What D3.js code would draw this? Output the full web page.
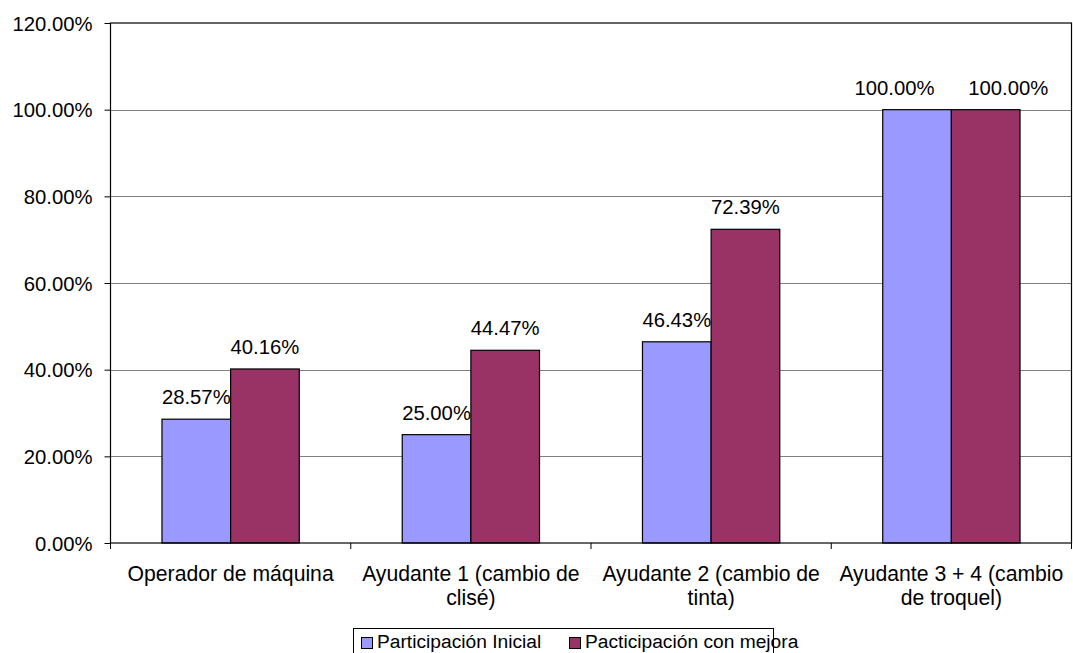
<!DOCTYPE html>
<html><head><meta charset="utf-8">
<script src="https://cdn.jsdelivr.net/npm/d3@7"></script>
<style>body{margin:0;background:#fff}svg{display:block}text{font-family:"Liberation Sans",Arial,sans-serif;fill:#000}</style>
</head><body><svg id="c" width="1073" height="653"></svg>
<script>
const categories = [["Operador de máquina"],["Ayudante 1 (cambio de","clisé)"],["Ayudante 2 (cambio de","tinta)"],["Ayudante 3 + 4 (cambio","de troquel)"]];
const seriesNames = ["Participación Inicial","Pacticipación con mejora"];
const inicial = [28.57, 25.00, 46.43, 100.00];
const mejora = [40.16, 44.47, 72.39, 100.00];
const yTicks = [0,20,40,60,80,100,120];
const colors = ["#9999FF","#993366"];

const svg = d3.select("#c");
const L=110.5, R=1071.5, T=23, B=543;
const x = d3.scaleBand().domain(d3.range(categories.length)).range([L,R]).paddingInner(0).paddingOuter(0);
const sub = d3.scaleBand().domain([0,1]).range([0,x.bandwidth()]).paddingOuter(0.75).paddingInner(0);
const y = d3.scaleLinear().domain([0,120]).range([B,T]);
const fs = 20.3, fsCat = 21.2, fsLeg = 19.2;

// gridlines
svg.append("g").selectAll("line").data(yTicks.filter(d=>d>0&&d<120)).join("line")
  .attr("x1",L).attr("x2",R).attr("y1",d=>Math.round(y(d))+0.5).attr("y2",d=>Math.round(y(d))+0.5)
  .attr("stroke","#808080").attr("stroke-width",1);

// bars
const series=[inicial,mejora];
series.forEach((vals,si)=>{
  svg.append("g").selectAll("rect").data(vals).join("rect")
    .attr("x",(d,i)=>x(i)+sub(si)).attr("width",sub.bandwidth())
    .attr("y",d=>y(d)).attr("height",d=>B-y(d))
    .attr("fill",colors[si]).attr("stroke","#000").attr("stroke-width",1.2);
});
// data labels (pushed apart when both labels of a group sit at the same height)
series.forEach((vals,si)=>{
  const other = series[1-si];
  svg.append("g").selectAll("text").data(vals).join("text")
    .attr("x",(d,i)=>{
      let cx = x(i)+sub(si)+sub.bandwidth()/2;
      if (Math.abs(y(d)-y(other[i]))<22) cx += (si===0?-1:1)*22.5;
      return cx;
    })
    .attr("y",d=>y(d)-15)
    .attr("text-anchor","middle").attr("font-size",fs)
    .text(d=>d.toFixed(2)+"%");
});

// plot border
svg.append("rect").attr("x",L).attr("y",T).attr("width",R-L).attr("height",B-T)
  .attr("fill","none").attr("stroke","#000").attr("stroke-width",1.2);

// y axis
const ya = d3.axisLeft(y).tickValues(yTicks).tickSize(6).tickPadding(12).tickFormat(d=>d.toFixed(2)+"%");
const yg = svg.append("g").attr("transform",`translate(${L},0)`).call(ya);
yg.select(".domain").remove();
yg.selectAll("line").attr("stroke","#000");
yg.selectAll("text").attr("font-size",fs).attr("font-family","Liberation Sans, Arial").attr("fill","#000").attr("dy","0.35em");

// x axis ticks
const xt = d3.range(categories.length+1).map(i=>L+i*x.bandwidth());
svg.append("g").selectAll("line").data(xt).join("line")
  .attr("x1",d=>d).attr("x2",d=>d).attr("y1",B).attr("y2",B+6).attr("stroke","#000");
svg.append("g").selectAll("text").data(categories).join("text")
  .attr("text-anchor","middle").attr("font-size",fsCat)
  .attr("transform",(d,i)=>`translate(${x(i)+x.bandwidth()/2},581)`)
  .each(function(d){
    d3.select(this).selectAll("tspan").data(d).join("tspan")
      .attr("x",0).attr("dy",(t,j)=>j===0?0:24).text(t=>t);
  });

// legend
const lg = svg.append("g");
lg.append("rect").attr("x",353.5).attr("y",628.5).attr("width",420).attr("height",40)
  .attr("fill","#fff").attr("stroke","#000").attr("stroke-width",1);
const itemX=[361,569];
seriesNames.forEach((n,i)=>{
  lg.append("rect").attr("x",itemX[i]+0.5).attr("y",637.5).attr("width",11).attr("height",11)
    .attr("fill",colors[i]).attr("stroke","#000").attr("stroke-width",1);
  lg.append("text").attr("x",itemX[i]+16).attr("y",648).attr("font-size",fsLeg).text(n);
});
</script></body></html>
